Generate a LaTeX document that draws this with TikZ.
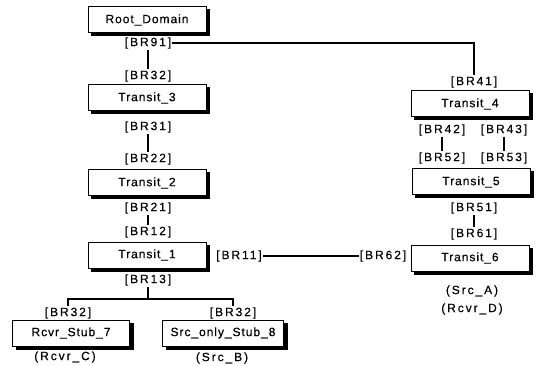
\documentclass[tikz,border=0pt]{standalone}
\usepackage{fontspec}
\setmainfont{Liberation Sans}
\usetikzlibrary{backgrounds}
\newcommand\boxshadow[1]{\fill[black] ([xshift=3.5pt,yshift=-3pt]#1.south west) rectangle ([xshift=3.5pt,yshift=-3pt]#1.north east);}
\begin{document}
\begin{tikzpicture}[x=1pt,y=-1pt,
 box/.style={draw=black,line width=1pt,fill=white,minimum width=118pt,minimum height=26pt,inner sep=0pt,
   font=\fontsize{12}{14}\selectfont\addfontfeature{LetterSpace=8,FakeBold=0.4}},
 lbl/.style={inner sep=1pt,font=\fontsize{12}{14}\selectfont\addfontfeature{LetterSpace=16,FakeBold=0.4}},
 wire/.style={line width=1.1pt}]
\useasboundingbox (0,0) rectangle (538,366);
% left column
\node[box] (root) at (147,20) {Root\_Domain};
\node[lbl] (br91) at (148,43) {[BR91]};
\node[lbl] (br32t) at (148,76) {[BR32]};
\node[box] (t3) at (147,98) {Transit\_3};
\node[lbl] (br31) at (148,127) {[BR31]};
\node[lbl] (br22) at (148,159) {[BR22]};
\node[box] (t2) at (147,183) {Transit\_2};
\node[lbl] (br21) at (148,208) {[BR21]};
\node[lbl] (br12) at (148,232) {[BR12]};
\node[box] (t1) at (147,255) {Transit\_1};
\node[lbl] (br11) at (239,256) {[BR11]};
\node[lbl] (br13) at (148,280) {[BR13]};
\coordinate (fork) at (148,299);
\node[lbl] (br32a) at (68,313) {[BR32]};
\node[lbl] (br32b) at (233,313) {[BR32]};
\node[box,minimum width=117pt] (s7) at (71,333) {Rcvr\_Stub\_7};
\node[box,minimum width=121pt] (s8) at (223,333) {Src\_only\_Stub\_8};
\node[lbl] (rc) at (65,357) {(Rcvr\_C)};
\node[lbl] (sb) at (222,358) {(Src\_B)};
% right column
\node[lbl] (br41) at (474,82) {[BR41]};
\node[box] (t4) at (470,104) {Transit\_4};
\node[lbl] (br42) at (442,130) {[BR42]};
\node[lbl] (br43) at (504,130) {[BR43]};
\node[lbl] (br52) at (442,158) {[BR52]};
\node[lbl] (br53) at (504,158) {[BR53]};
\node[box] (t5) at (471,182) {Transit\_5};
\node[lbl] (br51) at (474,208) {[BR51]};
\node[lbl] (br61) at (474,234) {[BR61]};
\node[box] (t6) at (470,258) {Transit\_6};
\node[lbl] (br62) at (383,256) {[BR62]};
\node[lbl] (sa) at (472,291) {(Src\_A)};
\node[lbl] (rd) at (472,309) {(Rcvr\_D)};
% shadows
\begin{pgfonlayer}{background}
\boxshadow{root}\boxshadow{t3}\boxshadow{t2}\boxshadow{t1}
\boxshadow{s7}\boxshadow{s8}\boxshadow{t4}\boxshadow{t5}\boxshadow{t6}
\end{pgfonlayer}
% wires
\draw[wire] (br91) -- (br32t);
\draw[wire] (br91.east) -| (br41.north);
\draw[wire] (br31) -- (br22);
\draw[wire] (br21) -- (br12);
\draw[wire] (br11) -- (br62);
\draw[wire] (br13) -- (fork);
\draw[wire] (fork) -| (br32a);
\draw[wire] (fork) -| (br32b);
\draw[wire] (br42) -- (br52);
\draw[wire] (br43) -- (br53);
\draw[wire] (br51) -- (br61);
\end{tikzpicture}
\end{document}
